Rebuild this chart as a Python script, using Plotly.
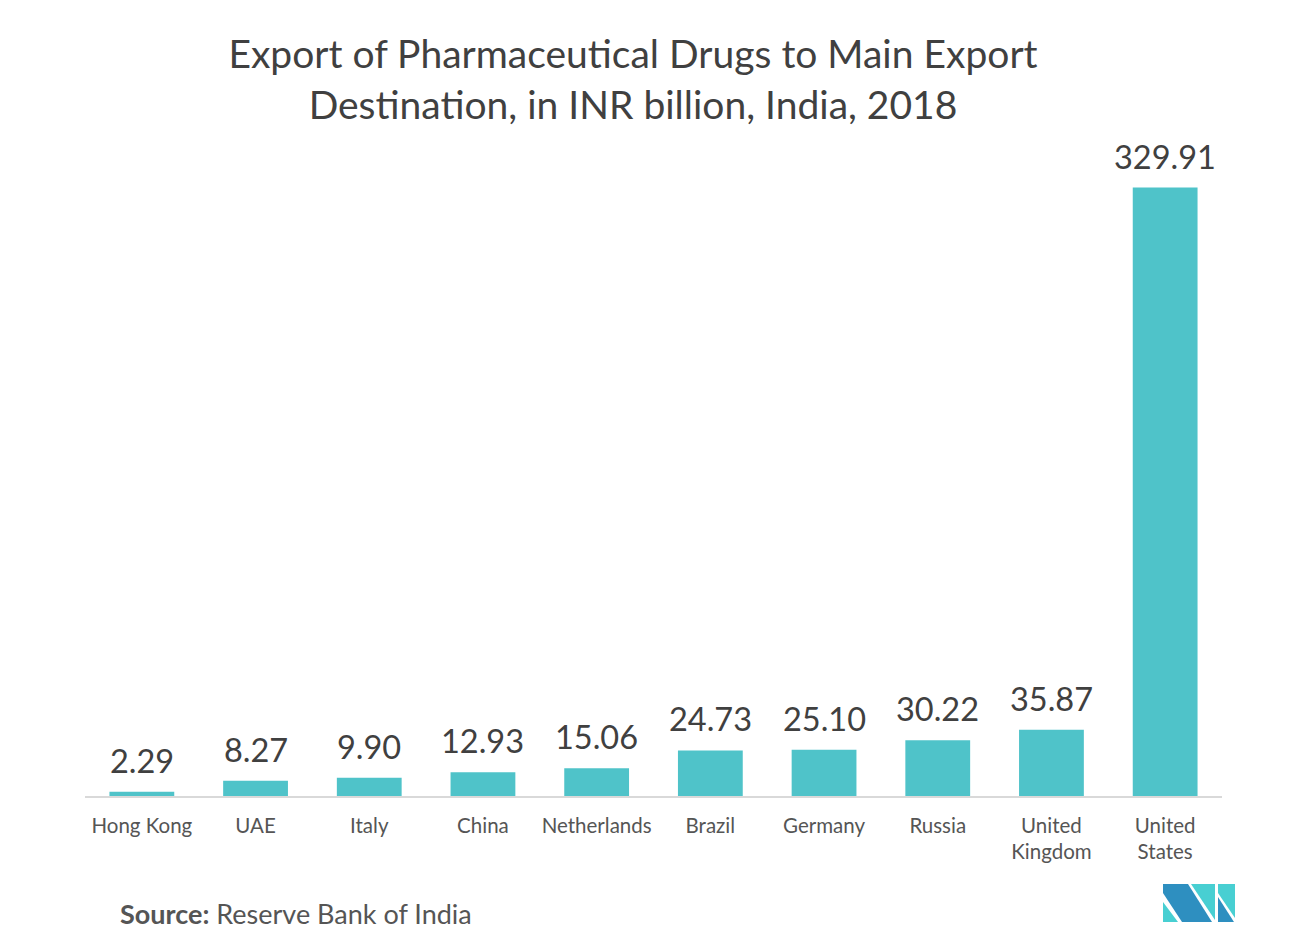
import plotly.graph_objects as go

categories = ["Hong Kong", "UAE", "Italy", "China", "Netherlands", "Brazil",
              "Germany", "Russia", "United<br>Kingdom", "United<br>States"]
values = [2.29, 8.27, 9.90, 12.93, 15.06, 24.73, 25.10, 30.22, 35.87, 329.91]
value_labels = ["2.29", "8.27", "9.90", "12.93", "15.06", "24.73", "25.10", "30.22", "35.87", "329.91"]

# the page has an 8px body margin, so the figure is drawn 8px smaller
OFF = 8
W, H = 1293 - OFF, 949 - OFF
L, R, T, B = 85 - OFF, 71, 132 - OFF, 153
FONT = "Lato"

fig = go.Figure()
fig.add_trace(go.Bar(x=categories, y=values, marker_color="#4FC3C9",
                     marker_line_width=0, width=0.57, hoverinfo="skip"))

for c, v, t in zip(categories, values, value_labels):
    fig.add_annotation(x=c, y=v, text=t, showarrow=False, yanchor="bottom",
                       yshift=10, font=dict(family=FONT, size=32.5, color="#404040"))

def px(x, y):
    # page pixel -> paper coordinates
    x -= OFF
    y -= OFF
    return ((x - L) / (W - L - R), (H - B - y) / (H - T - B))

def path(points):
    pts = [px(x, y) for x, y in points]
    return "M " + " L ".join(f"{a:.5f},{b:.5f}" for a, b in pts) + " Z"

logo = [
    ([(1163, 902), (1163, 922), (1178, 922)], "#48CFD2"),
    ([(1163, 884), (1188, 884), (1212, 922), (1182, 922), (1163, 893)], "#2E8FC0"),
    ([(1191, 884), (1215, 884), (1215, 920)], "#48CFD2"),
    ([(1218, 884), (1235, 884), (1235, 918), (1218, 893)], "#48CFD2"),
    ([(1218, 897), (1234, 922), (1218, 922)], "#2E8FC0"),
]
shapes = [dict(type="path", xref="paper", yref="paper", path=path(p),
               fillcolor=col, line=dict(width=0), layer="above") for p, col in logo]

fig.add_annotation(xref="paper", yref="paper", x=px(118, 0)[0], y=px(0, 913)[1],
                   xanchor="left", yanchor="middle", showarrow=False,
                   text="<b>Source:</b> Reserve Bank of India",
                   font=dict(family=FONT, size=27, color="#555555"))

fig.update_layout(
    width=W, height=H,
    margin=dict(l=L, r=R, t=T, b=B),
    paper_bgcolor="white", plot_bgcolor="white",
    title=dict(text="Export of Pharmaceutical Drugs to Main Export<br>Destination, in INR billion, India, 2018",
               x=(633 - OFF) / W, xanchor="center", xref="container",
               y=1 - 60 / H, yanchor="middle", yref="container",
               font=dict(family=FONT, size=39, color="#404040")),
    showlegend=False,
    shapes=shapes,
    xaxis=dict(showgrid=False, showline=True, linecolor="#d9d9d9", linewidth=2,
               ticks="", tickfont=dict(family=FONT, size=20.5, color="#555555"),
               ticklabelstandoff=10, fixedrange=True),
    yaxis=dict(range=[0, 360], visible=False, showgrid=False, zeroline=False,
               fixedrange=True),
)

fig.write_html("out.html")
